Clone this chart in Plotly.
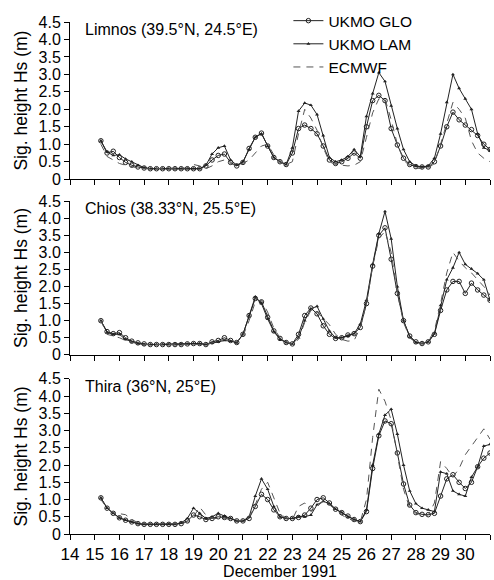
import plotly.graph_objects as go

# Six-hourly samples: each row = values at d+0.25, d+0.5, d+0.75, d+1.0 for day d = 15..30
DAYS = list(range(15, 31))
OFFSETS = [0.25, 0.5, 0.75, 1.0]

limnos_glo = [
    1.1, 0.75, 0.8, 0.62,
    0.48, 0.4, 0.35, 0.32,
    0.3, 0.3, 0.3, 0.3,
    0.3, 0.3, 0.3, 0.3,
    0.3, 0.38, 0.55, 0.68,
    0.72, 0.48, 0.38, 0.48,
    0.88, 1.2, 1.32, 0.95,
    0.62, 0.5, 0.42, 0.75,
    1.45, 1.55, 1.45, 1.3,
    0.95, 0.55, 0.45, 0.5,
    0.6, 0.75, 0.6, 1.5,
    2.25, 2.4, 2.25, 1.45,
    0.98, 0.6, 0.42, 0.36,
    0.35, 0.35, 0.5, 0.95,
    1.5, 1.92, 1.7, 1.55,
    1.42, 1.25, 1.0, 0.85,
]
limnos_lam = [
    1.1, 0.78, 0.68, 0.7,
    0.58, 0.5, 0.4, 0.33,
    0.3, 0.3, 0.3, 0.3,
    0.3, 0.3, 0.3, 0.3,
    0.3, 0.4, 0.72, 0.9,
    0.95, 0.55, 0.4, 0.5,
    0.85, 1.2, 1.3, 0.95,
    0.62, 0.5, 0.42, 0.9,
    1.95, 2.18, 2.12, 1.85,
    1.25, 0.62, 0.5, 0.55,
    0.65, 0.85, 0.65, 1.8,
    2.45, 3.05, 2.8, 2.1,
    1.45, 0.85, 0.5, 0.38,
    0.35, 0.38, 0.6, 1.3,
    2.2, 3.0, 2.6, 2.3,
    2.0, 1.3, 0.9, 0.82,
]
limnos_ecmwf = [
    1.0, 0.65, 0.55, 0.45,
    0.4, 0.35, 0.32, 0.3,
    0.3, 0.3, 0.3, 0.3,
    0.3, 0.3, 0.32, 0.42,
    0.38, 0.3, 0.38, 0.5,
    0.55, 0.45, 0.38, 0.45,
    0.55, 0.75, 0.95, 1.0,
    0.7, 0.5, 0.42, 0.5,
    1.3, 2.0, 1.75, 1.4,
    0.9, 0.5, 0.42, 0.4,
    0.38, 0.4, 0.5, 1.2,
    1.9, 2.3, 2.3, 1.7,
    1.0, 0.55, 0.38, 0.32,
    0.3, 0.32, 0.45, 1.0,
    1.6, 2.2, 2.0, 1.75,
    1.1, 0.75, 0.6, 0.5,
]

chios_glo = [
    1.0, 0.68, 0.62, 0.65,
    0.5, 0.4, 0.35, 0.32,
    0.3, 0.3, 0.3, 0.3,
    0.3, 0.3, 0.32, 0.33,
    0.33, 0.3, 0.38, 0.42,
    0.5, 0.42, 0.36, 0.6,
    1.15, 1.65, 1.55, 1.1,
    0.7, 0.48, 0.36, 0.32,
    0.6, 1.15, 1.37, 1.2,
    0.85, 0.6, 0.48, 0.5,
    0.58, 0.62, 0.8, 1.5,
    2.6, 3.5, 3.72, 2.8,
    1.8, 1.0, 0.55, 0.38,
    0.33, 0.38, 0.6, 1.3,
    1.9, 2.15, 2.15, 1.8,
    2.1, 1.9, 1.75, 1.6,
]
chios_lam = [
    1.0, 0.65, 0.6, 0.6,
    0.45, 0.38, 0.33, 0.3,
    0.3, 0.3, 0.3, 0.3,
    0.3, 0.3, 0.32, 0.33,
    0.33, 0.3, 0.35, 0.38,
    0.42, 0.4, 0.35, 0.6,
    1.15, 1.7, 1.5, 1.05,
    0.68, 0.45, 0.36, 0.32,
    0.5, 1.0, 1.35, 1.42,
    1.05, 0.7, 0.5, 0.5,
    0.55, 0.62, 0.9, 1.6,
    2.65, 3.55, 4.2, 3.4,
    2.0, 1.0, 0.52, 0.36,
    0.33, 0.38, 0.62, 1.45,
    2.2, 2.55, 3.0, 2.65,
    2.52, 2.38, 2.2, 1.6,
]
chios_ecmwf = [
    1.0, 0.6, 0.55, 0.5,
    0.42, 0.36, 0.32, 0.3,
    0.3, 0.3, 0.3, 0.3,
    0.3, 0.3, 0.3, 0.32,
    0.32, 0.3, 0.35, 0.4,
    0.45, 0.42, 0.38, 0.55,
    1.0, 1.55, 1.6, 1.25,
    0.78, 0.5, 0.38, 0.32,
    0.45, 0.95, 1.3, 1.25,
    1.05, 0.88, 0.6, 0.45,
    0.4, 0.42, 0.8, 1.5,
    2.6, 3.4, 3.62, 3.0,
    1.8, 0.95, 0.5, 0.36,
    0.33, 0.4, 0.7, 1.5,
    2.4, 3.0, 2.75, 2.55,
    2.4, 2.2, 2.0, 1.75,
]

thira_glo = [
    1.05, 0.75, 0.6, 0.47,
    0.4, 0.35, 0.3, 0.28,
    0.28, 0.28, 0.28, 0.28,
    0.28, 0.3, 0.38, 0.55,
    0.5, 0.42, 0.45, 0.5,
    0.48, 0.45, 0.38, 0.38,
    0.45, 0.8, 1.15, 1.0,
    0.7, 0.5, 0.45, 0.45,
    0.48, 0.55, 0.75, 1.0,
    1.05, 0.9, 0.72, 0.62,
    0.52, 0.42, 0.36, 0.65,
    1.9, 2.85, 3.28, 3.2,
    2.35, 1.45, 0.84, 0.62,
    0.57, 0.56, 0.6, 1.1,
    1.6, 1.72, 1.5, 1.32,
    1.5, 1.95, 2.2, 2.35,
]
thira_lam = [
    1.05, 0.75, 0.6, 0.47,
    0.4, 0.35, 0.3, 0.28,
    0.28, 0.28, 0.28, 0.28,
    0.28, 0.32, 0.45, 0.75,
    0.6, 0.45, 0.5, 0.6,
    0.52, 0.45, 0.38, 0.38,
    0.5, 1.1, 1.6, 1.3,
    0.8, 0.5, 0.45, 0.45,
    0.5, 0.5, 0.55, 0.85,
    0.95, 0.88, 0.72, 0.62,
    0.5, 0.42, 0.36, 0.7,
    2.0, 2.9, 3.45, 3.62,
    2.9, 2.0, 1.25, 0.88,
    0.75, 0.7, 0.65, 1.8,
    1.75, 1.25, 1.15, 1.1,
    1.65, 1.95, 2.55, 2.6,
]
thira_ecmwf = [
    1.0, 0.75, 0.62, 0.58,
    0.56, 0.42, 0.33, 0.3,
    0.3, 0.3, 0.3, 0.3,
    0.3, 0.3, 0.35, 0.5,
    0.78, 0.55, 0.45, 0.45,
    0.45, 0.42, 0.38, 0.4,
    0.5, 0.85, 1.3, 1.5,
    1.05, 0.6, 0.45, 0.42,
    0.8, 0.9, 0.65, 0.8,
    0.95, 0.85, 0.7, 0.55,
    0.45, 0.38, 0.35, 1.0,
    2.8, 4.2, 3.85, 3.3,
    2.3, 1.3, 0.75, 0.6,
    0.55, 0.55, 0.9, 2.1,
    1.9, 1.65, 1.9, 2.3,
    2.55, 2.8, 3.05, 2.75,
]

panel_titles = ["Limnos (39.5°N, 24.5°E)", "Chios (38.33°N, 25.5°E)", "Thira (36°N, 25°E)"]
series_names = ["UKMO GLO", "UKMO LAM", "ECMWF"]
y_ticks = [0, 0.5, 1.0, 1.5, 2.0, 2.5, 3.0, 3.5, 4.0, 4.5]
y_ticktext = ["0", "0.5", "1.0", "1.5", "2.0", "2.5", "3.0", "3.5", "4.0", "4.5"]
x_ticks = list(range(14, 32))

times = [d + o for d in DAYS for o in OFFSETS]

panels = [
    (limnos_glo, limnos_lam, limnos_ecmwf),
    (chios_glo, chios_lam, chios_ecmwf),
    (thira_glo, thira_lam, thira_ecmwf),
]

FONT = "Liberation Sans, Arial, sans-serif"
fig = go.Figure()

# domains in paper coords (plot area top=9px, bottom=540px)
domains = [[0.693, 1.0], [0.350, 0.650], [0.0, 0.303]]

for i, (glo, lam, ec) in enumerate(panels):
    xa = "x" if i == 0 else f"x{i+1}"
    ya = "y" if i == 0 else f"y{i+1}"
    show = i == 0
    fig.add_trace(go.Scatter(
        x=times, y=glo, name=series_names[0], xaxis=xa, yaxis=ya,
        mode="lines+markers", showlegend=show,
        line=dict(color="#222222", width=1),
        marker=dict(symbol="circle-open", size=4.5, color="#222222", line=dict(width=1)),
    ))
    fig.add_trace(go.Scatter(
        x=times, y=lam, name=series_names[1], xaxis=xa, yaxis=ya,
        mode="lines+markers", showlegend=show,
        line=dict(color="#222222", width=1),
        marker=dict(symbol="triangle-up", size=3.5, color="#222222"),
    ))
    fig.add_trace(go.Scatter(
        x=times, y=ec, name=series_names[2], xaxis=xa, yaxis=ya,
        mode="lines", showlegend=show,
        line=dict(color="#555555", width=1, dash="7px,6px"),
    ))

axis_common = dict(
    showline=True, linecolor="black", linewidth=1, showgrid=False, zeroline=False,
    ticks="outside", ticklen=5, tickcolor="black", tickwidth=1,
)
layout = dict()
for i in range(3):
    xk = "xaxis" if i == 0 else f"xaxis{i+1}"
    yk = "yaxis" if i == 0 else f"yaxis{i+1}"
    ya = "y" if i == 0 else f"y{i+1}"
    xa = "x" if i == 0 else f"x{i+1}"
    layout[xk] = dict(
        axis_common, range=[14, 31], tickvals=x_ticks, anchor=ya, domain=[0, 1],
        showticklabels=(i == 2), tickfont=dict(size=17, color="black", family=FONT),
        title=dict(text="December 1991" if i == 2 else "", font=dict(size=16, color="black", family=FONT), standoff=0),
    )
    layout[yk] = dict(
        axis_common, range=[0, 4.5], tickvals=y_ticks, ticktext=y_ticktext, anchor=xa,
        domain=domains[i], tickfont=dict(size=16, color="black", family=FONT),
        title=dict(text="Sig. height Hs (m)", font=dict(size=17.5, color="black", family=FONT), standoff=6),
    )
    fig.add_annotation(
        text=panel_titles[i], xref=f"{xa} domain", yref=f"{ya} domain",
        x=0.03, y=0.95, xanchor="left", yanchor="middle", showarrow=False,
        font=dict(size=16, color="black", family=FONT),
    )

fig.update_layout(
    **layout,
    width=494, height=580,
    margin=dict(l=70, r=4, t=9, b=40),
    paper_bgcolor="white", plot_bgcolor="white",
    font=dict(family=FONT, color="black"),
    legend=dict(x=0.52, y=1.035, xanchor="left", yanchor="top", bgcolor="rgba(0,0,0,0)",
                font=dict(size=15.5, color="black", family=FONT), tracegroupgap=0, itemwidth=30),
)

fig.write_html("out.html")
